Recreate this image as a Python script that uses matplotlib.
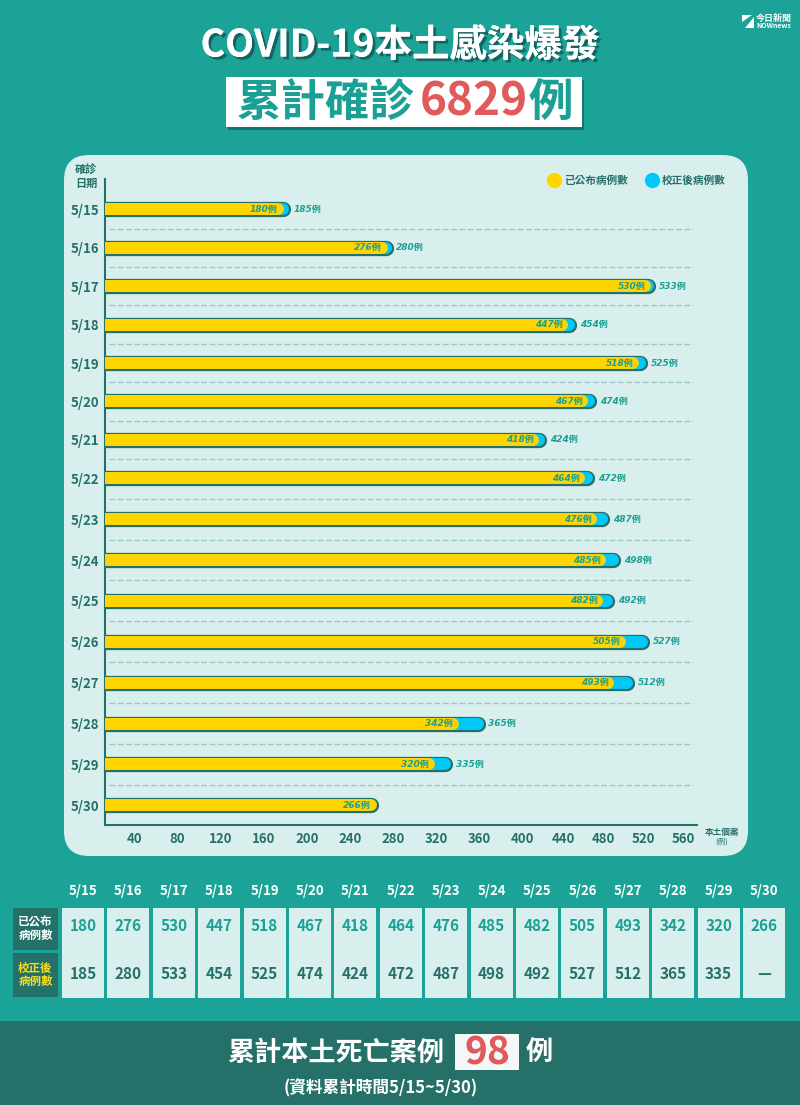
import numpy as np
import matplotlib
matplotlib.use('Agg')
import matplotlib.pyplot as plt
from matplotlib.lines import Line2D
from matplotlib.patches import FancyBboxPatch, Rectangle, Polygon
from matplotlib.transforms import ScaledTranslation
import matplotlib.patheffects as pe

plt.rcParams['font.family'] = ['Noto Sans CJK TC', 'DejaVu Sans']

dates = ['5/15', '5/16', '5/17', '5/18', '5/19', '5/20', '5/21', '5/22',
         '5/23', '5/24', '5/25', '5/26', '5/27', '5/28', '5/29', '5/30']
published = [180, 276, 530, 447, 518, 467, 418, 464, 476, 485, 482, 505, 493, 342, 320, 266]
corrected = [185, 280, 533, 454, 525, 474, 424, 472, 487, 498, 492, 527, 512, 365, 335, None]
x_ticks = [40, 80, 120, 160, 200, 240, 280, 320, 360, 400, 440, 480, 520, 560]
total_cases = 6829
total_deaths = 98

BG = '#1aa396'
PANEL = '#d9efed'
DARK = '#26706a'
TEAL = '#1ba095'
RED = '#e05a5c'
YELLOW = '#ffd400'
BLUE = '#00c8f8'
DASH = '#9ccaca'
W, H = 800, 1105


# the picture's axes change step part way along, so use two-slope scales
def two_slope(brk, s1, s2):
    def fwd(v):
        v = np.asarray(v, dtype=float)
        return np.where(v < brk, v * s1, brk * s1 + (v - brk) * s2)

    def inv(p):
        p = np.asarray(p, dtype=float)
        return np.where(p < brk * s1, p / s1, brk + (p - brk * s1) / s2)
    return fwd, inv


fig = plt.figure(figsize=(W / 100, H / 100), dpi=100, facecolor=BG)

# background layer in pixel coordinates
bg = fig.add_axes([0, 0, 1, 1], zorder=0)
bg.set_xlim(0, W)
bg.set_ylim(H, 0)
bg.axis('off')

# title
shadow = [pe.withSimplePatchShadow(offset=(2, -2), shadow_rgbFace='#14645f', alpha=1), pe.Normal()]
bg.text(400, 45, 'COVID-19本土感染爆發', color='white', fontsize=27, fontweight='bold',
        ha='center', va='center', path_effects=shadow)
bg.add_patch(Rectangle((228, 80), 356, 50, fc='#14736c', ec='none'))
bg.add_patch(Rectangle((226, 77), 356, 50, fc='white', ec='none'))
bg.text(326, 103, '累計確診', color=TEAL, fontsize=32, fontweight='bold', ha='center', va='center')
bg.text(474, 103, str(total_cases), color=RED, fontsize=33, fontweight='bold', ha='center', va='center')
bg.text(551, 103, '例', color=TEAL, fontsize=32, fontweight='bold', ha='center', va='center')

# logo
bg.add_patch(Polygon([[742, 15], [752, 15], [742, 22]], fc='white', ec='none'))
bg.add_patch(Polygon([[754, 17], [754, 28], [745, 28]], fc='white', ec='none'))
bg.text(774, 18, '今日新聞', color='white', fontsize=6.5, fontweight='bold', ha='center', va='center')
bg.text(774, 26, 'NOWnews', color='white', fontsize=5, fontweight='bold', ha='center', va='center')

# chart panel
bg.add_patch(FancyBboxPatch((89, 180), 634, 651, boxstyle='round,pad=25,rounding_size=25',
                            fc=PANEL, ec='none'))
bg.text(86, 177, '確診\n日期', color=DARK, fontsize=8, fontweight='bold', ha='center', va='center',
        linespacing=0.95)
bg.text(722, 832, '本土個案', color=DARK, fontsize=6.2, fontweight='bold', ha='center', va='center')
bg.text(722, 842, '(例)', color=DARK, fontsize=5.5, ha='center', va='center')

# chart
ax = fig.add_axes([105 / W, 1 - 825 / H, (697 - 105) / W, (825 - 179) / H], zorder=1)
ax.patch.set_alpha(0)
ax.set_xscale('function', functions=two_slope(400, 1.08, 1.0))
ax.set_yscale('function', functions=two_slope(7, 38.4, 40.9))
ax.set_xlim(13, 574)
ax.set_ylim(15.48, -0.794)

shift = ax.transData + ScaledTranslation(-7.5 / 100, 0, fig.dpi_scale_trans)
rows = np.arange(len(dates))

for i in rows[:-1]:
    ax.plot([17, 570], [i + 0.5, i + 0.5], color=DASH, lw=1, dashes=(4.2, 1.8), zorder=1)

for i, (pub, cor) in enumerate(zip(published, corrected)):
    end = pub if cor is None else cor
    ax.plot([0, end], [i, i], color=DARK, lw=11, solid_capstyle='round', transform=shift, zorder=2)
    if cor is not None:
        ax.plot([0, cor], [i, i], color=BLUE, lw=8.6, solid_capstyle='round', transform=shift, zorder=3)
    ax.plot([0, pub], [i, i], color=YELLOW, lw=8.6, solid_capstyle='round', transform=shift, zorder=4)
    ax.annotate('%d例' % pub, xy=(pub, i), xytext=(-5.5, 0), textcoords='offset points', ha='right',
                va='center', color=TEAL, fontsize=6.5, fontweight='bold', style='italic',
                family=['DejaVu Sans', 'Noto Sans CJK TC'], zorder=5)
    if cor is not None:
        ax.annotate('%d例' % cor, xy=(cor, i), xytext=(2, 0), textcoords='offset points', ha='left',
                    va='center', color=TEAL, fontsize=6.5, fontweight='bold', style='italic',
                    family=['DejaVu Sans', 'Noto Sans CJK TC'], zorder=5)

for s in ['top', 'right']:
    ax.spines[s].set_visible(False)
for s in ['left', 'bottom']:
    ax.spines[s].set_color(DARK)
    ax.spines[s].set_linewidth(1.5)
ax.set_xticks(x_ticks)
ax.set_xticklabels([str(t) for t in x_ticks])
ax.set_yticks(rows)
ax.set_yticklabels(dates)
ax.minorticks_off()
ax.tick_params(axis='x', length=0, pad=5, labelsize=9.5, labelcolor=DARK)
ax.tick_params(axis='y', length=0, pad=4, labelsize=9.5, labelcolor=DARK)
for t in ax.get_xticklabels() + ax.get_yticklabels():
    t.set_fontweight('bold')

handles = [Line2D([], [], ls='', marker='o', ms=11, mfc=YELLOW, mec='none'),
           Line2D([], [], ls='', marker='o', ms=11, mfc=BLUE, mec='none')]
leg = ax.legend(handles, ['已公布病例數', '校正後病例數'], ncol=2, frameon=False,
                loc='center right', bbox_to_anchor=(731 / W, 1 - 181 / H),
                bbox_transform=fig.transFigure, handletextpad=0.2, columnspacing=1.6,
                borderpad=0, handlelength=1.4, prop={'size': 7.7, 'weight': 'bold'})
for t in leg.get_texts():
    t.set_color(DARK)

# table under the chart
col_w, col_step = 42, 45.4
for i, (d, pub, cor) in enumerate(zip(dates, published, corrected)):
    left = 62 + i * col_step
    mid = left + col_w / 2
    bg.add_patch(Rectangle((left, 908), col_w, 90, fc=PANEL, ec='none'))
    bg.text(mid, 891, d, color='white', fontsize=9.5, fontweight='bold', ha='center', va='center')
    bg.text(mid, 926, str(pub), color=TEAL, fontsize=11, fontweight='bold', ha='center', va='center')
    bg.text(mid, 974, '—' if cor is None else str(cor), color=DARK, fontsize=11, fontweight='bold',
            ha='center', va='center')
bg.add_patch(Rectangle((13, 908), 45, 42, fc=DARK, ec='none'))
bg.add_patch(Rectangle((13, 953), 45, 44, fc=DARK, ec='none'))
bg.text(35.5, 929, '已公布\n病例數', color='white', fontsize=8.3, fontweight='bold', ha='center',
        va='center', linespacing=1.05)
bg.text(35.5, 975, '校正後\n病例數', color='#f5e020', fontsize=8.3, fontweight='bold', ha='center',
        va='center', linespacing=1.05)

# footer
bg.add_patch(Rectangle((0, 1021), W, 84, fc=DARK, ec='none'))
bg.text(336, 1053, '累計本土死亡案例', color='white', fontsize=19.5, fontweight='bold', ha='center', va='center')
bg.add_patch(Rectangle((455, 1034), 64, 36, fc='#f4f8f8', ec='none'))
bg.text(487, 1053, str(total_deaths), color=RED, fontsize=28, fontweight='bold', ha='center', va='center')
bg.text(539, 1053, '例', color='white', fontsize=19.5, fontweight='bold', ha='center', va='center')
bg.text(381, 1088, '(資料累計時間5/15~5/30)', color='white', fontsize=12, fontweight='bold',
        ha='center', va='center')

fig.savefig('out.png', dpi=100, facecolor=BG)
